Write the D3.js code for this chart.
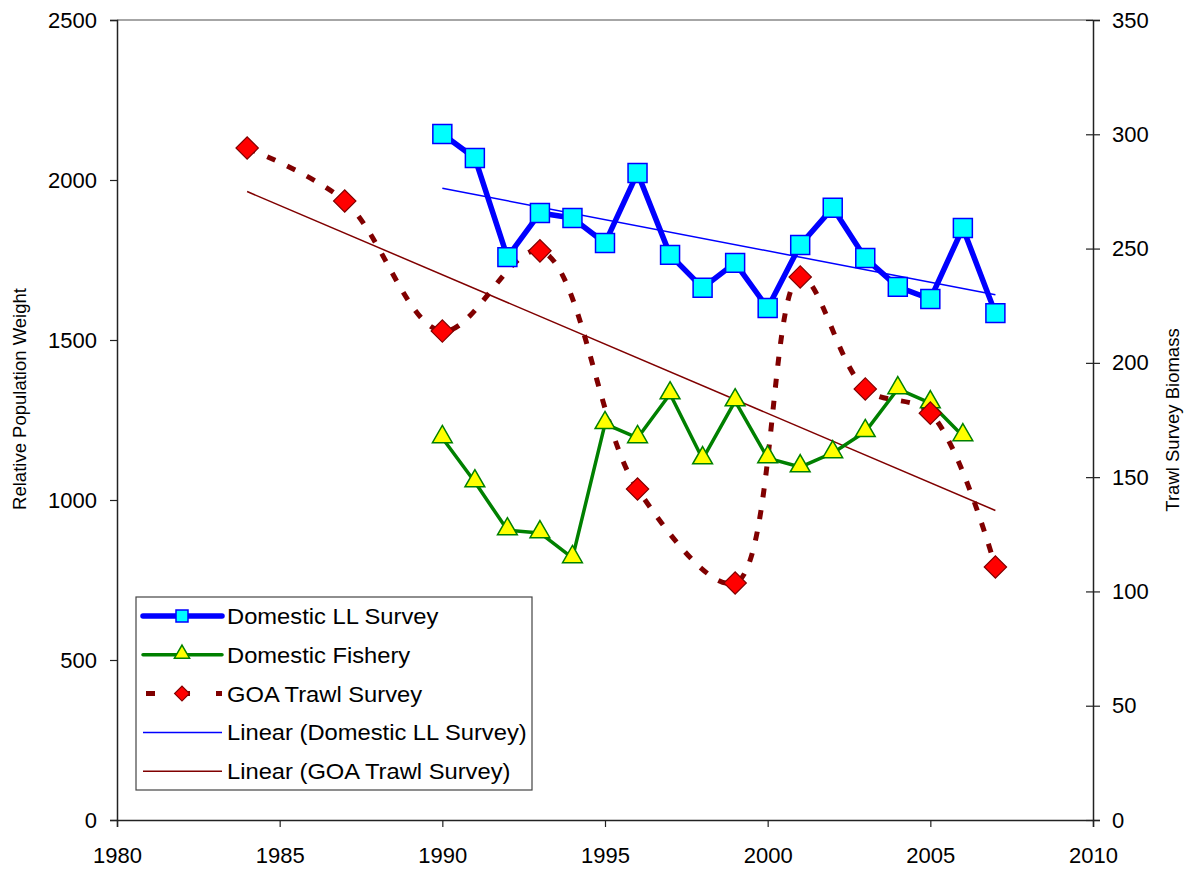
<!DOCTYPE html>
<html>
<head>
<meta charset="utf-8">
<script src="https://cdn.jsdelivr.net/npm/d3@7"></script>
<style>
  body { margin: 0; background: #fff; }
  text { font-family: "Liberation Sans", Arial, sans-serif; }
</style>
</head>
<body>
<svg id="canvas" width="1188" height="869"></svg>
<script>
// data
let llYears = [1990,1991,1992,1993,1994,1995,1996,1997,1998,1999,2000,2001,2002,2003,2004,2005,2006,2007]
let llValues = [2144,2069,1759,1897,1881,1803,2022,1766,1663,1741,1600,1797,1913,1756,1666,1628,1850,1584]

let fisheryYears = [1990,1991,1992,1993,1994,1995,1996,1997,1998,1999,2000,2001,2002,2003,2004,2005,2006]
let fisheryValues = [1194,1056,906,897,819,1238,1194,1331,1128,1309,1131,1103,1147,1213,1347,1303,1200]

let trawlYears = [1984,1987,1990,1993,1996,1999,2001,2003,2005,2007]
let trawlValues = [294,270.8,213.9,249,144.8,103.7,237.6,188.6,178,110.7]

let xTicks = [1980,1985,1990,1995,2000,2005,2010]
let leftTicks = [0,500,1000,1500,2000,2500]
let rightTicks = [0,50,100,150,200,250,300,350]

let legendNames = ['Domestic LL Survey','Domestic Fishery','GOA Trawl Survey','Linear (Domestic LL Survey)','Linear (GOA Trawl Survey)']

let canvas = d3.select('#canvas')

let plotLeft = 117, plotRight = 1093, plotTop = 20, plotBottom = 820

let xScale = d3.scaleLinear().domain([1980, 2010]).range([plotLeft, plotRight])
let yLeft = d3.scaleLinear().domain([0, 2500]).range([plotBottom, plotTop])
let yRight = d3.scaleLinear().domain([0, 350]).range([plotBottom, plotTop])

// least squares trend like Excel's linear trendline
let trend = (xs, ys) => {
    let mx = d3.mean(xs), my = d3.mean(ys)
    let num = d3.sum(xs, (x, i) => (x - mx) * (ys[i] - my))
    let den = d3.sum(xs, (x) => (x - mx) * (x - mx))
    let slope = num / den
    let a = my - slope * mx
    let x0 = xs[0], x1 = xs[xs.length - 1]
    return [[x0, a + slope * x0], [x1, a + slope * x1]]
}

// plot frame
canvas.append('line')
    .attr('x1', plotLeft).attr('x2', plotRight).attr('y1', plotTop).attr('y2', plotTop)
    .attr('stroke', '#888').attr('stroke-width', 1.5)

let xAxis = canvas.append('g')
    .attr('transform', 'translate(0,' + plotBottom + ')')
    .call(d3.axisBottom(xScale).tickValues(xTicks).tickFormat(d3.format('d')).tickSizeOuter(0).tickSize(7).tickPadding(20))

let leftAxis = canvas.append('g')
    .attr('transform', 'translate(' + plotLeft + ',0)')
    .call(d3.axisLeft(yLeft).tickValues(leftTicks).tickFormat(d3.format('d')).tickSizeOuter(0).tickSize(7).tickPadding(13))

let rightAxis = canvas.append('g')
    .attr('transform', 'translate(' + plotRight + ',0)')
    .call(d3.axisRight(yRight).tickValues(rightTicks).tickFormat(d3.format('d')).tickSizeOuter(0).tickSize(7).tickPadding(12))
rightAxis.selectAll('.tick line').attr('x1', -7)

canvas.selectAll('.domain').attr('stroke', '#222').attr('stroke-width', 1.5)
canvas.selectAll('.tick line').attr('stroke', '#222').attr('stroke-width', 1.2)
canvas.selectAll('.tick text').attr('font-size', 22).attr('fill', '#000')
    .style('font-family', '"Liberation Sans", Arial, sans-serif')

canvas.append('text')
    .attr('transform', 'translate(26,' + 399 + ') rotate(-90)')
    .attr('text-anchor', 'middle')
    .attr('font-size', 18.5)
    .text('Relative Population Weight')

canvas.append('text')
    .attr('transform', 'translate(1179,' + 420 + ') rotate(-90)')
    .attr('text-anchor', 'middle')
    .attr('font-size', 18.5)
    .text('Trawl Survey Biomass')

// trend lines
let llTrend = trend(llYears, llValues)
let trawlTrend = trend(trawlYears, trawlValues)

canvas.append('path')
    .attr('d', d3.line().x((d) => xScale(d[0])).y((d) => yRight(d[1]))(trawlTrend))
    .attr('stroke', '#800000').attr('stroke-width', 1.5).attr('fill', 'none')

// GOA trawl survey, smoothed dashed
let trawlPoints = trawlYears.map((y, i) => [y, trawlValues[i]])
canvas.append('path')
    .attr('d', d3.line().curve(d3.curveCatmullRom.alpha(0.5))
        .x((d) => xScale(d[0])).y((d) => yRight(d[1]))(trawlPoints))
    .attr('stroke', '#800000').attr('stroke-width', 5).attr('fill', 'none')
    .attr('stroke-dasharray', '9,13')

// domestic fishery
let fisheryPoints = fisheryYears.map((y, i) => [y, fisheryValues[i]])
canvas.append('path')
    .attr('d', d3.line().x((d) => xScale(d[0])).y((d) => yLeft(d[1]))(fisheryPoints))
    .attr('stroke', '#008000').attr('stroke-width', 3.5).attr('fill', 'none')
    .attr('stroke-linejoin', 'round')

// domestic LL survey
let llPoints = llYears.map((y, i) => [y, llValues[i]])
canvas.append('path')
    .attr('d', d3.line().x((d) => xScale(d[0])).y((d) => yLeft(d[1]))(llPoints))
    .attr('stroke', '#0000ff').attr('stroke-width', 5.5).attr('fill', 'none')
    .attr('stroke-linejoin', 'round')

canvas.append('path')
    .attr('d', d3.line().x((d) => xScale(d[0])).y((d) => yLeft(d[1]))(llTrend))
    .attr('stroke', '#0000ff').attr('stroke-width', 1.5).attr('fill', 'none')

// markers
let square = d3.symbol().type(d3.symbolSquare).size(360)
let triangle = d3.symbol().type(d3.symbolTriangle).size(170)
let diamond = d3.symbol().type(d3.symbolSquare).size(250)

canvas.selectAll('.tri')
    .data(fisheryPoints)
    .enter()
    .append('path')
    .attr('class', 'tri')
    .attr('d', triangle)
    .attr('transform', (d) => 'translate(' + xScale(d[0]) + ',' + (yLeft(d[1]) - 1) + ')')
    .attr('fill', '#ffff00').attr('stroke', '#008000').attr('stroke-width', 1.5)

canvas.selectAll('.dia')
    .data(trawlPoints)
    .enter()
    .append('path')
    .attr('class', 'dia')
    .attr('d', diamond)
    .attr('transform', (d) => 'translate(' + xScale(d[0]) + ',' + yRight(d[1]) + ') rotate(45)')
    .attr('fill', '#ff0000').attr('stroke', '#800000').attr('stroke-width', 1.2)

canvas.selectAll('.sq')
    .data(llPoints)
    .enter()
    .append('path')
    .attr('class', 'sq')
    .attr('d', square)
    .attr('transform', (d) => 'translate(' + xScale(d[0]) + ',' + yLeft(d[1]) + ')')
    .attr('fill', '#00ffff').attr('stroke', '#0000ff').attr('stroke-width', 1.5)

// legend
let legend = canvas.append('g')
legend.append('rect')
    .attr('x', 136).attr('y', 597).attr('width', 396).attr('height', 193)
    .attr('fill', '#fff').attr('stroke', '#444').attr('stroke-width', 1.2)

let rowY = (i) => 616 + i * 38.8
let sx0 = 143, sx1 = 222, smid = 182

legend.append('line').attr('x1', sx0).attr('x2', sx1).attr('y1', rowY(0)).attr('y2', rowY(0))
    .attr('stroke', '#0000ff').attr('stroke-width', 5.5).attr('stroke-linecap', 'round')
legend.append('path').attr('d', d3.symbol().type(d3.symbolSquare).size(144))
    .attr('transform', 'translate(' + smid + ',' + rowY(0) + ')')
    .attr('fill', '#00ffff').attr('stroke', '#0000ff').attr('stroke-width', 1.5)

legend.append('line').attr('x1', sx0).attr('x2', sx1).attr('y1', rowY(1)).attr('y2', rowY(1))
    .attr('stroke', '#008000').attr('stroke-width', 3.5).attr('stroke-linecap', 'round')
legend.append('path').attr('d', d3.symbol().type(d3.symbolTriangle).size(100))
    .attr('transform', 'translate(' + smid + ',' + (rowY(1) - 1) + ')')
    .attr('fill', '#ffff00').attr('stroke', '#008000').attr('stroke-width', 1.5)

legend.append('line').attr('x1', sx0 + 3).attr('x2', sx1).attr('y1', rowY(2)).attr('y2', rowY(2))
    .attr('stroke', '#800000').attr('stroke-width', 5).attr('stroke-dasharray', '9,26')
legend.append('path').attr('d', d3.symbol().type(d3.symbolSquare).size(110))
    .attr('transform', 'translate(' + smid + ',' + rowY(2) + ') rotate(45)')
    .attr('fill', '#ff0000').attr('stroke', '#800000').attr('stroke-width', 1.2)

legend.append('line').attr('x1', sx0).attr('x2', sx1).attr('y1', rowY(3)).attr('y2', rowY(3))
    .attr('stroke', '#0000ff').attr('stroke-width', 1.5)
legend.append('line').attr('x1', sx0).attr('x2', sx1).attr('y1', rowY(4)).attr('y2', rowY(4))
    .attr('stroke', '#800000').attr('stroke-width', 1.5)

legend.selectAll('.lt')
    .data(legendNames)
    .enter()
    .append('text')
    .attr('class', 'lt')
    .attr('transform', (d, i) => 'translate(227,' + (rowY(i) + 8) + ') scale(1.055,1)')
    .attr('font-size', 22.5)
    .text((d) => d)
</script>
</body>
</html>
